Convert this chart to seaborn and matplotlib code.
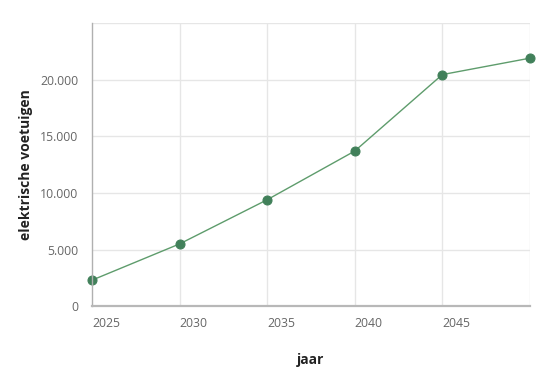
import matplotlib
import matplotlib.pyplot as plt
import pandas as pd
import seaborn as sns

matplotlib.use('Agg')

# data
jaren = [2025, 2030, 2035, 2040, 2045, 2050]
voertuigen = [2300, 5500, 9400, 13700, 20450, 21900]
y_ticks = [0, 5000, 10000, 15000, 20000]
y_labels = ['0', '5.000', '10.000', '15.000', '20.000']
x_ticks = [2025, 2030, 2035, 2040, 2045]
x_labels = ['2025', '2030', '2035', '2040', '2045']

df = pd.DataFrame({'jaar': jaren, 'voertuigen': voertuigen})

sns.set_theme(style='white')
plt.rcParams['font.family'] = ['Open Sans', 'DejaVu Sans']

fig = plt.figure(figsize=(5.48, 3.78), dpi=100)
ax = fig.add_axes([0.168, 0.19, 0.799, 0.749])

sns.lineplot(data=df, x='jaar', y='voertuigen', ax=ax, color='#5e9c6c', linewidth=1.0,
             marker='o', markersize=6.5, markerfacecolor='#41805a', markeredgecolor='#41805a')
for art in ax.lines:
    art.set_clip_on(False)

ax.set_xlim(2025, 2050)
ax.set_ylim(0, 25000)

# grid lines (also the top and right border)
for x in [2030, 2035, 2040, 2045, 2050]:
    ax.axvline(x, color='#e6e6e6', linewidth=1, zorder=0)
for y in [5000, 10000, 15000, 20000, 25000]:
    ax.axhline(y, color='#e6e6e6', linewidth=1, zorder=0)

ax.set_yticks(y_ticks)
ax.set_yticklabels(y_labels)
ax.set_xticks(x_ticks + [2050])
ax.set_xticklabels(x_labels + [''])
for lbl in ax.get_xticklabels():
    lbl.set_horizontalalignment('left')

ax.tick_params(axis='both', which='major', labelsize=8.8, labelcolor='#666666',
               color='#aaaaaa', length=5, width=1, direction='out')
ax.tick_params(axis='y', length=7, pad=3)
ax.tick_params(axis='x', pad=3)

for side in ['top', 'right']:
    ax.spines[side].set_visible(False)
ax.spines['left'].set_color('#b0b0b0')
ax.spines['left'].set_linewidth(1)
ax.spines['bottom'].set_color('#b8b8b8')
ax.spines['bottom'].set_linewidth(1.6)

ax.set_xlabel('jaar', fontsize=10, fontweight='bold', color='#222222', labelpad=16)
ax.set_ylabel('elektrische voetuigen', fontsize=10, fontweight='bold', color='#222222', labelpad=5)

fig.savefig('out.png', dpi=100)
